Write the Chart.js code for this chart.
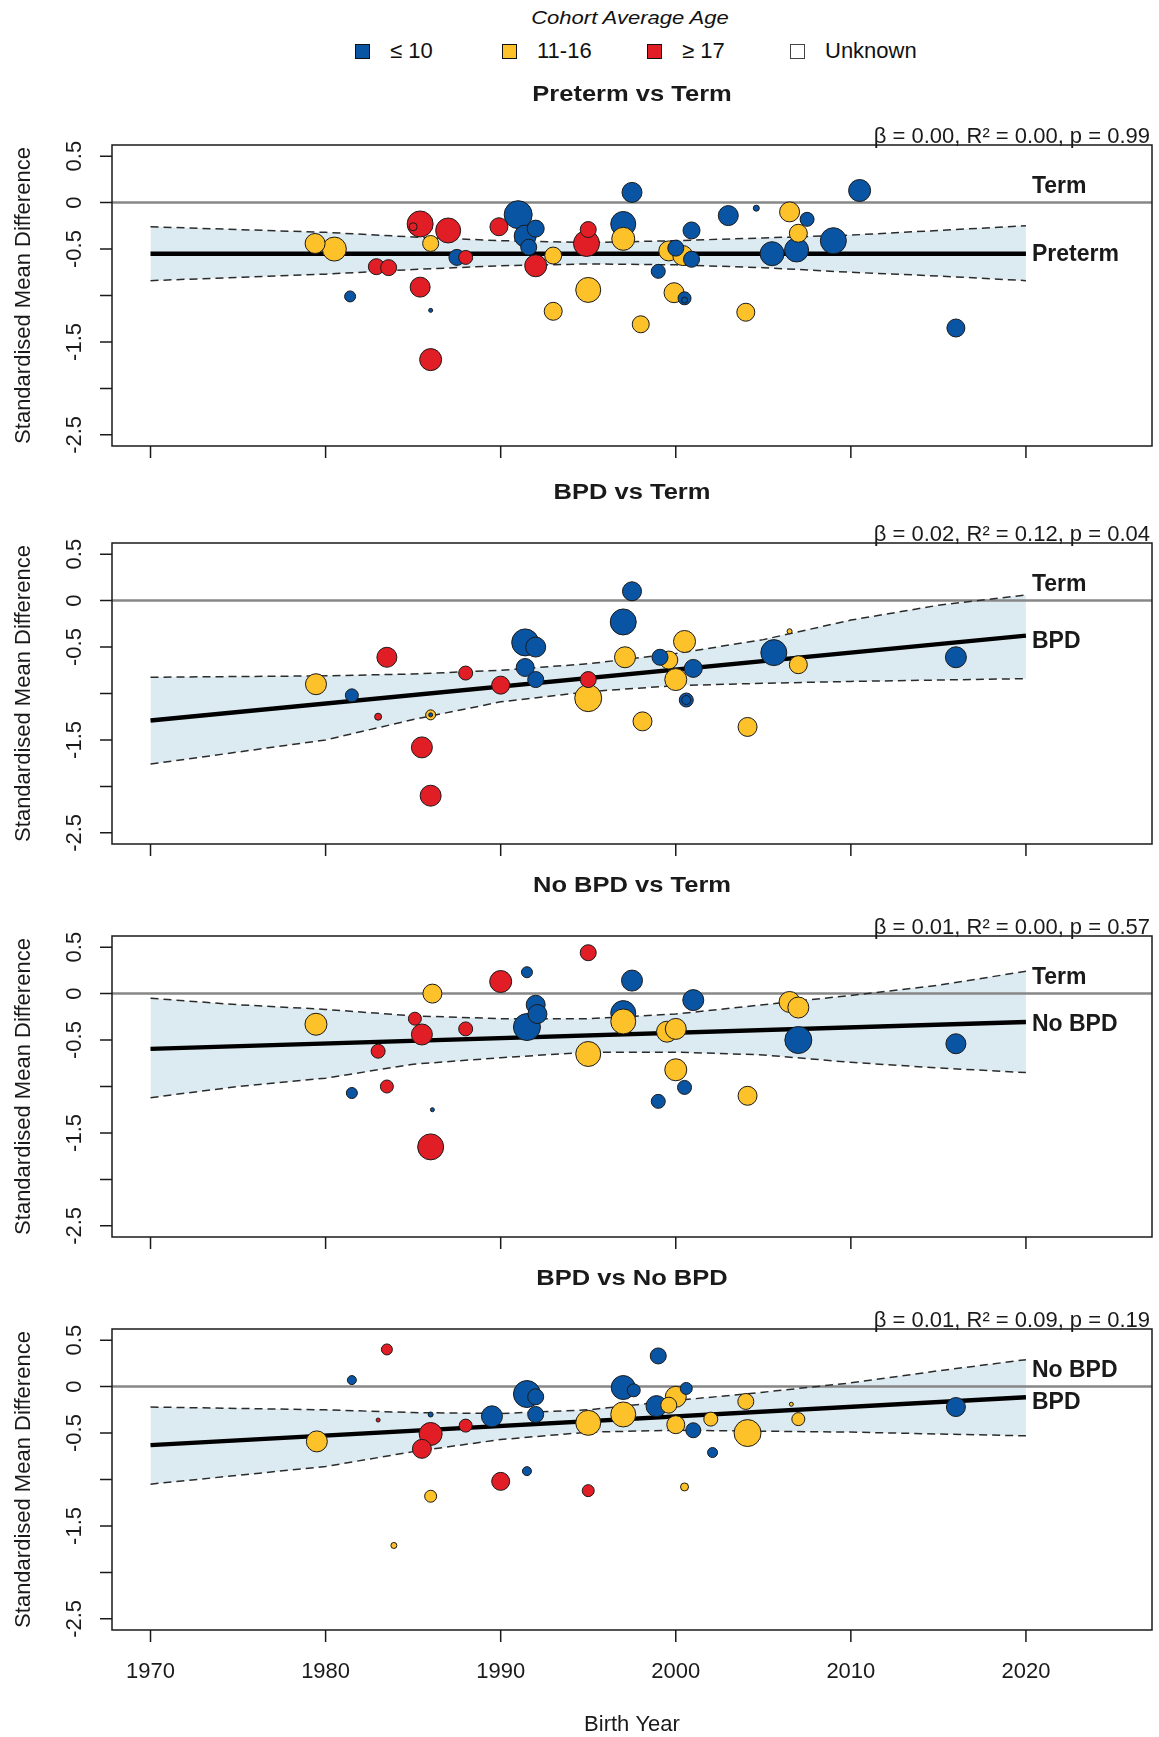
<!DOCTYPE html>
<html>
<head>
<meta charset="utf-8">
<title>Standardised Mean Difference by Birth Year</title>
<script src="https://cdn.jsdelivr.net/npm/chart.js@4.4.1/dist/chart.umd.min.js"></script>
<style>
  html, body { margin: 0; padding: 0; background: #fff; }
  #page { position: relative; width: 1159px; height: 1737px; overflow: hidden;
          font-family: "Liberation Sans", Arial, sans-serif; color: #111; }
  #page canvas { position: absolute; left: 0; }
  #ageTitle { position: absolute; left: 430px; width: 400px; top: 8px; text-align: center;
              font-size: 19px; line-height: 19px; font-style: italic; transform: scaleX(1.16); }
  .key-box { position: absolute; width: 15px; height: 15px; box-sizing: border-box; border: 1.5px solid #111; }
  .key-text { position: absolute; font-size: 22px; line-height: 22px; white-space: nowrap; }
</style>
</head>
<body>
<div id="page">
  <div id="ageTitle">Cohort Average Age</div>
</div>

<script>
// === AXES ===
const X_MIN = 1967.8, X_MAX = 2027.2;
const Y_MIN = -2.62, Y_MAX = 0.62;
const X_TICKS = [1970, 1980, 1990, 2000, 2010, 2020];
const Y_TICKS = [0.5, 0, -0.5, -1, -1.5, -2, -2.5];
const Y_TICK_LABELS = ['0.5', '0', '-0.5', '', '-1.5', '', '-2.5'];
const FIT_YEARS = [1970, 2020];

// age groups: L = <=10, M = 11-16, H = >=17
const AGE_KEYS = ['L', 'M', 'H', 'U'];
const AGE_LABELS = ['\u2264 10', '11-16', '\u2265 17', 'Unknown'];
const AGE_COLORS = { L: '#0a55a3', M: '#fdc12a', H: '#e11d25', U: '#ffffff' };

const PANEL_TITLES = ['Preterm vs Term', 'BPD vs Term', 'No BPD vs Term', 'BPD vs No BPD'];
const PANEL_STATS = [
  'β = 0.00, R² = 0.00, p = 0.99',
  'β = 0.02, R² = 0.12, p = 0.04',
  'β = 0.01, R² = 0.00, p = 0.57',
  'β = 0.01, R² = 0.09, p = 0.19'
];
const TOP_LABELS = ['Term', 'Term', 'Term', 'No BPD'];
const BOTTOM_LABELS = ['Preterm', 'BPD', 'No BPD', 'BPD'];

// === PANEL 1 : Preterm vs Term ===
const P1_YEAR = [1979.4,1980.5,1981.4,1982.9,1983.6,1985.4,1985.0,1987.0,1986.0,1985.4,1986.0,1986.0,1987.5,1988.0,1989.9,1991.0,1992.0,1991.4,1991.6,1992.0,1993.0,1993.0,1995.0,1994.9,1995.0,1997.5,1997.0,1997.0,1998.0,1999.0,1999.6,2000.0,2000.4,2000.9,2000.9,1999.9,2000.5,2000.5,2003.0,2004.6,2004.0,2005.5,2006.5,2007.5,2007.0,2006.9,2009.0,2010.5,2016.0];
const P1_SMD = [-0.44,-0.50,-1.01,-0.69,-0.70,-0.23,-0.26,-0.30,-0.44,-0.91,-1.16,-1.69,-0.59,-0.59,-0.26,-0.13,-0.28,-0.36,-0.48,-0.68,-0.57,-1.17,-0.29,-0.44,-0.94,0.11,-0.23,-0.39,-1.31,-0.74,-0.52,-0.49,-0.57,-0.61,-0.30,-0.97,-1.03,-1.05,-0.14,-0.06,-1.18,-0.55,-0.10,-0.18,-0.33,-0.51,-0.41,0.13,-1.35];
const P1_WEIGHT = [10,12,5.5,8,8,13,4,12.5,8,10,2,11,8,7,9,14,8.5,11,8,11,8.5,9,8,13,12.5,10,12.5,11.5,8.5,7,10,8,10,8,8.5,10,6.5,3,10,3,9,12,10,7,9,12,13,11,9];
const P1_AGE = ['M','M','L','H','H','H','H','H','M','H','L','H','L','H','H','L','L','L','L','H','M','M','H','H','M','L','L','M','M','L','M','L','M','L','L','M','L','L','L','L','M','L','M','L','M','L','L','L','L'];
const P1_FIT = [-0.55, -0.55];
const P1_BAND_YEAR = [1970,1980,1985,1990,1995,2000,2005,2010,2015,2020];
const P1_UPPER = [-0.26,-0.32,-0.37,-0.41,-0.43,-0.41,-0.38,-0.35,-0.30,-0.25];
const P1_LOWER = [-0.84,-0.77,-0.72,-0.68,-0.66,-0.67,-0.70,-0.75,-0.79,-0.84];

// === PANEL 2 : BPD vs Term ===
const P2_YEAR = [1979.45,1981.5,1983.5,1983.0,1986.0,1986.0,1985.5,1986.0,1988.0,1990.0,1991.4,1992.0,1991.4,1992.0,1995.0,1995.0,1997.5,1997.0,1997.1,1998.1,1999.1,2000.5,1999.6,2000.0,2001.0,2000.6,2000.6,2004.1,2005.6,2006.5,2007.0,2016.0];
const P2_SMD = [-0.90,-1.02,-0.61,-1.25,-1.23,-1.23,-1.58,-2.10,-0.78,-0.91,-0.45,-0.50,-0.72,-0.85,-0.85,-1.05,0.10,-0.23,-0.61,-1.30,-0.61,-0.44,-0.64,-0.85,-0.73,-1.07,-1.07,-1.36,-0.56,-0.33,-0.69,-0.61];
const P2_WEIGHT = [10.5,6.5,10,3.5,5,2,10.5,10.5,7,9,13.5,10,9,8,8,13.5,9.5,13,10.5,9.5,8,11,9,11,9,7,4.5,9.5,13,2.5,9,10.5];
const P2_AGE = ['M','L','H','H','M','L','H','H','H','H','L','L','L','L','H','M','L','L','M','M','L','M','M','M','L','L','L','M','L','M','M','L'];
const P2_FIT = [-1.29, -0.377];
const P2_BAND_YEAR = [1970,1980,1985,1990,1995,2000,2005,2010,2015,2020];
const P2_UPPER = [-0.825,-0.81,-0.79,-0.75,-0.68,-0.57,-0.42,-0.21,-0.05,0.06];
const P2_LOWER = [-1.76,-1.50,-1.28,-1.09,-0.98,-0.915,-0.89,-0.87,-0.855,-0.84];

// === PANEL 3 : No BPD vs Term ===
const P3_YEAR = [1979.45,1981.5,1983.0,1983.5,1985.1,1985.5,1986.1,1986.1,1986.0,1988.0,1990.0,1991.5,1992.0,1992.1,1991.5,1995.0,1995.0,1997.5,1997.0,1997.0,1999.5,2000.0,2001.0,2000.0,2000.5,1999.0,2004.1,2006.5,2007.0,2007.0,2016.0];
const P3_SMD = [-0.33,-1.07,-0.62,-1.00,-0.27,-0.44,0.00,-1.25,-1.65,-0.38,0.13,0.23,-0.12,-0.22,-0.36,0.44,-0.65,0.14,-0.21,-0.30,-0.41,-0.38,-0.07,-0.82,-1.01,-1.16,-1.10,-0.09,-0.15,-0.50,-0.54];
const P3_WEIGHT = [11,5.5,7,6.5,6.5,10.5,9.5,2,13,7,11,5.5,9.5,9.5,13.5,8,12.5,10.5,12.5,12.5,10.5,10.5,10.5,11,7,7,9.5,10.5,10.5,13.5,10];
const P3_AGE = ['M','L','H','H','H','H','M','L','H','H','H','L','L','L','L','H','M','L','L','M','M','M','L','M','L','L','M','M','M','L','L'];
const P3_FIT = [-0.595, -0.305];
const P3_BAND_YEAR = [1970,1975,1980,1985,1990,1995,2000,2005,2010,2015,2020];
const P3_UPPER = [-0.05,-0.12,-0.17,-0.24,-0.27,-0.27,-0.22,-0.12,-0.02,0.09,0.24];
const P3_LOWER = [-1.12,-1.00,-0.91,-0.76,-0.69,-0.63,-0.63,-0.66,-0.74,-0.80,-0.85];

// === PANEL 4 : BPD vs No BPD ===
const P4_YEAR = [1979.5,1981.5,1983.5,1983.0,1983.9,1986.0,1986.0,1985.5,1986.0,1988.0,1989.5,1990.0,1991.5,1992.0,1992.0,1991.5,1995.0,1995.0,1997.0,1997.6,1997.0,1999.0,1998.9,1999.6,2000.0,2000.6,2000.0,2001.0,2002.0,2002.1,2000.5,2004.0,2004.1,2006.6,2007.0,2016.0];
const P4_SMD = [-0.59,0.07,0.40,-0.36,-1.71,-0.30,-0.51,-0.67,-1.18,-0.42,-0.32,-1.02,-0.08,-0.11,-0.30,-0.91,-0.39,-1.12,-0.01,-0.04,-0.30,0.33,-0.21,-0.20,-0.11,-0.02,-0.41,-0.47,-0.35,-0.71,-1.08,-0.16,-0.50,-0.19,-0.35,-0.22];
const P4_WEIGHT = [10.5,4.5,5.5,2,3,2.5,11.5,9.5,6,6.5,10.5,9,13.5,8,8,4.5,12.5,6,12,6.5,12.5,8,10.5,8,10.5,6,9,7.5,7,5,4,8,13.5,2,6.5,9.5];
const P4_AGE = ['M','L','H','H','M','L','H','H','M','H','L','H','L','L','L','L','M','H','L','L','M','L','L','M','M','L','M','L','M','L','M','M','M','M','M','L'];
const P4_FIT = [-0.63, -0.115];
const P4_BAND_YEAR = [1970,1980,1985,1990,1995,2000,2005,2010,2015,2020];
const P4_UPPER = [-0.22,-0.25,-0.28,-0.29,-0.25,-0.15,-0.06,0.04,0.17,0.29];
const P4_LOWER = [-1.05,-0.86,-0.70,-0.57,-0.49,-0.47,-0.48,-0.49,-0.51,-0.53];

// where the right-hand labels sit (in SMD units)
const TOP_LABEL_AT = 0.17;
const BOTTOM_LABEL_AT = [-0.56, -0.44, -0.335, -0.17];

// === LAYOUT ===
const PAGE_W = 1159, PAGE_H = 1737;
const BOX_LEFT = 112, BOX_RIGHT = 1152, BOX_H = 301;
const BOX_TOPS = [145, 543, 936, 1329];
const HEAD_ROOM = 64;
const FONT = '"Liberation Sans", Arial, sans-serif';
const INK = '#1a1a1a';

function toPoints(xs, ys) {
    return xs.map((x, i) => ({ x: x, y: ys[i] }));
}

// Axes, box, titles and labels drawn around the chart area
const panelDecor = {
    id: 'panelDecor',
    afterDraw(chart, args, opts) {
        const { ctx, chartArea: a, scales: { x, y } } = chart;
        ctx.save();
        ctx.strokeStyle = INK;
        ctx.fillStyle = INK;
        ctx.lineWidth = 1.5;
        ctx.strokeRect(a.left, a.top, a.right - a.left, a.bottom - a.top);

        // tick marks
        ctx.beginPath();
        Y_TICKS.forEach(v => {
            const py = y.getPixelForValue(v);
            ctx.moveTo(a.left - 12, py);
            ctx.lineTo(a.left, py);
        });
        X_TICKS.forEach(v => {
            const px = x.getPixelForValue(v);
            ctx.moveTo(px, a.bottom);
            ctx.lineTo(px, a.bottom + 12);
        });
        ctx.stroke();

        // y tick labels, rotated like R's las = 0
        ctx.font = '22px ' + FONT;
        ctx.textAlign = 'center';
        ctx.textBaseline = 'alphabetic';
        Y_TICKS.forEach((v, i) => {
            if (!Y_TICK_LABELS[i]) return;
            ctx.save();
            ctx.translate(81, y.getPixelForValue(v));
            ctx.rotate(-Math.PI / 2);
            ctx.fillText(Y_TICK_LABELS[i], 0, 0);
            ctx.restore();
        });

        // y axis title
        ctx.save();
        ctx.translate(30, (a.top + a.bottom) / 2);
        ctx.rotate(-Math.PI / 2);
        ctx.fillText('Standardised Mean Difference', 0, 0);
        ctx.restore();

        // panel title
        ctx.save();
        ctx.translate((a.left + a.right) / 2, a.top - 44);
        ctx.scale(1.16, 1);
        ctx.font = 'bold 22px ' + FONT;
        ctx.fillText(opts.title, 0, 0);
        ctx.restore();

        // regression stats
        ctx.font = '22px ' + FONT;
        ctx.textAlign = 'right';
        ctx.fillText(opts.stats, a.right - 2, a.top - 2);

        // group labels at the end of the lines
        ctx.font = 'bold 23px ' + FONT;
        ctx.textAlign = 'left';
        ctx.textBaseline = 'middle';
        const lx = x.getPixelForValue(2020) + 6;
        ctx.fillText(opts.topLabel, lx, y.getPixelForValue(TOP_LABEL_AT));
        ctx.fillText(opts.bottomLabel, lx, y.getPixelForValue(opts.bottomAt));

        // x labels only on the last panel
        if (opts.showXLabels) {
            ctx.font = '22px ' + FONT;
            ctx.textAlign = 'center';
            ctx.textBaseline = 'alphabetic';
            X_TICKS.forEach(v => ctx.fillText(String(v), x.getPixelForValue(v), a.bottom + 48));
            ctx.fillText('Birth Year', (a.left + a.right) / 2, a.bottom + 101);
        }
        ctx.restore();
    }
};

function buildPanel(i, data) {
    const top = BOX_TOPS[i] - HEAD_ROOM;
    const isLast = i === BOX_TOPS.length - 1;
    const bottomPad = isLast ? PAGE_H - (BOX_TOPS[i] + BOX_H) : 22;

    const canvas = document.createElement('canvas');
    canvas.width = PAGE_W;
    canvas.height = HEAD_ROOM + BOX_H + bottomPad;
    canvas.style.top = top + 'px';
    document.getElementById('page').appendChild(canvas);

    // big studies first so the small ones stay visible on top
    const idx = data.year.map((_, k) => k).sort((p, q) => data.weight[q] - data.weight[p]);
    const studies = idx.map(k => ({ x: data.year[k], y: data.smd[k] }));
    const radii = idx.map(k => data.weight[k]);
    const fills = idx.map(k => AGE_COLORS[data.age[k]]);

    new Chart(canvas.getContext('2d'), {
        type: 'line',
        data: {
            datasets: [
                {
                    label: 'Studies',
                    data: studies,
                    showLine: false,
                    pointRadius: radii,
                    pointBackgroundColor: fills,
                    pointBorderColor: INK,
                    pointBorderWidth: 1,
                    order: 0
                },
                {
                    label: 'Fit',
                    data: toPoints(FIT_YEARS, data.fit),
                    borderColor: '#000',
                    borderWidth: 4.5,
                    pointRadius: 0,
                    order: 1
                },
                {
                    label: 'Upper',
                    data: toPoints(data.bandYear, data.upper),
                    borderColor: '#2b2b2b',
                    borderWidth: 1.5,
                    borderDash: [8, 5],
                    pointRadius: 0,
                    fill: '+1',
                    backgroundColor: '#dcebf2',
                    order: 2
                },
                {
                    label: 'Lower',
                    data: toPoints(data.bandYear, data.lower),
                    borderColor: '#2b2b2b',
                    borderWidth: 1.5,
                    borderDash: [8, 5],
                    pointRadius: 0,
                    fill: false,
                    order: 3
                },
                {
                    label: 'Reference',
                    data: toPoints([X_MIN, X_MAX], [0, 0]),
                    borderColor: '#878787',
                    borderWidth: 2.5,
                    pointRadius: 0,
                    order: 4
                }
            ]
        },
        options: {
            responsive: false,
            animation: false,
            events: [],
            layout: {
                autoPadding: false,
                padding: { left: BOX_LEFT, right: PAGE_W - BOX_RIGHT, top: HEAD_ROOM, bottom: bottomPad }
            },
            elements: { line: { tension: 0 } },
            scales: {
                x: { type: 'linear', display: false, min: X_MIN, max: X_MAX },
                y: { type: 'linear', display: false, min: Y_MIN, max: Y_MAX }
            },
            plugins: {
                legend: { display: false },
                tooltip: { enabled: false },
                filler: { drawTime: 'beforeDatasetsDraw' },
                panelDecor: {
                    title: PANEL_TITLES[i],
                    stats: PANEL_STATS[i],
                    topLabel: TOP_LABELS[i],
                    bottomLabel: BOTTOM_LABELS[i],
                    bottomAt: BOTTOM_LABEL_AT[i],
                    showXLabels: isLast
                }
            }
        },
        plugins: [panelDecor]
    });
}

// Legend for the cohort age colours
function buildAgeLegend() {
    const page = document.getElementById('page');
    const keyX = [362, 509, 654, 797];
    AGE_KEYS.forEach((k, i) => {
        const box = document.createElement('div');
        box.className = 'key-box';
        box.style.left = (keyX[i] - 7.5) + 'px';
        box.style.top = '44px';
        box.style.background = AGE_COLORS[k];
        if (k === 'U') box.style.borderColor = '#444';
        page.appendChild(box);

        const txt = document.createElement('div');
        txt.className = 'key-text';
        txt.style.left = (keyX[i] + 28) + 'px';
        txt.style.top = '40px';
        txt.textContent = AGE_LABELS[i];
        page.appendChild(txt);
    });
}

document.addEventListener('DOMContentLoaded', () => {
    buildAgeLegend();
    const panels = [
        { year: P1_YEAR, smd: P1_SMD, weight: P1_WEIGHT, age: P1_AGE, fit: P1_FIT, bandYear: P1_BAND_YEAR, upper: P1_UPPER, lower: P1_LOWER },
        { year: P2_YEAR, smd: P2_SMD, weight: P2_WEIGHT, age: P2_AGE, fit: P2_FIT, bandYear: P2_BAND_YEAR, upper: P2_UPPER, lower: P2_LOWER },
        { year: P3_YEAR, smd: P3_SMD, weight: P3_WEIGHT, age: P3_AGE, fit: P3_FIT, bandYear: P3_BAND_YEAR, upper: P3_UPPER, lower: P3_LOWER },
        { year: P4_YEAR, smd: P4_SMD, weight: P4_WEIGHT, age: P4_AGE, fit: P4_FIT, bandYear: P4_BAND_YEAR, upper: P4_UPPER, lower: P4_LOWER }
    ];
    panels.forEach((p, i) => buildPanel(i, p));
});
</script>
</body>
</html>
